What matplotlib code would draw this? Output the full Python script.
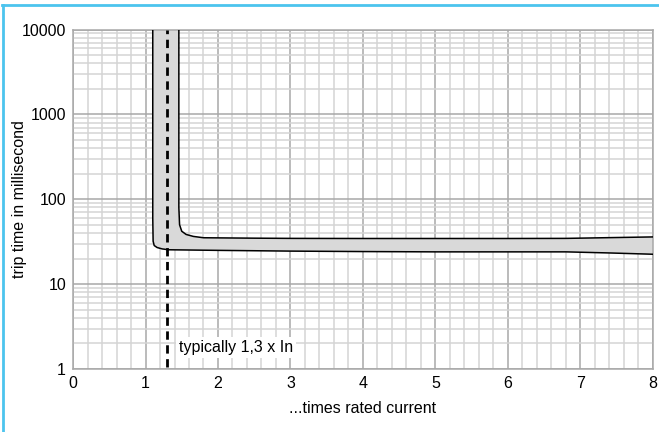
"""Trip time curve for residual current / overcurrent device"""
import matplotlib.pyplot as plt
import numpy as np
from matplotlib.lines import Line2D
from matplotlib.ticker import MultipleLocator, LogLocator, NullFormatter

plt.rcParams['font.family'] = ['Liberation Sans', 'DejaVu Sans']

# lower limit of the tripping band (x = multiple of In, y = ms)
lower_x = [1.10, 1.10, 1.105, 1.12, 1.16, 1.23, 1.32, 2.0, 3.0, 4.0, 5.0, 6.0, 6.8, 7.4, 8.0]
lower_y = [10000, 60, 32, 28.5, 27.0, 26.0, 25.4, 25.0, 24.5, 24.2, 24.0, 24.0, 24.0, 23.3, 22.5]

# upper limit of the tripping band
upper_x = [1.46, 1.46, 1.47, 1.50, 1.56, 1.66, 1.80, 2.5, 3.0, 4.0, 5.0, 6.0, 6.8, 7.4, 8.0]
upper_y = [10000, 80, 50, 42, 38.5, 36.5, 35.2, 34.8, 34.6, 34.5, 34.5, 34.5, 34.6, 35.3, 36.0]

typical_x = 1.3
x_ticks = [0, 1, 2, 3, 4, 5, 6, 7, 8]
y_ticks = [1, 10, 100, 1000, 10000]

fig = plt.figure(figsize=(6.59, 4.32), dpi=100)
ax = fig.add_axes([0.1108, 0.1458, 0.88, 0.7859])

# shaded band between the two curves
band_y = np.concatenate([lower_y, upper_y[::-1]])
band_x = np.concatenate([lower_x, upper_x[::-1]])
ax.fill(band_x, band_y, color='#d9d9d9', lw=0, zorder=2)
ax.plot(lower_x, lower_y, color='black', lw=1.1, zorder=3)
ax.plot(upper_x, upper_y, color='black', lw=1.1, zorder=3)

ax.axvline(typical_x, ymin=0.005, ymax=1.0, color='black', lw=2, ls=(0, (3, 2)), zorder=4)
ax.text(typical_x + 0.16, 1.8, 'typically 1,3 x In', fontsize=11.5, va='center', ha='left',
        bbox=dict(facecolor='white', edgecolor='none', pad=2), zorder=5)

ax.set_yscale('log')
ax.set_xlim(0, 8)
ax.set_ylim(1, 10000)
ax.set_xticks(x_ticks)
ax.set_yticks(y_ticks)
ax.set_yticklabels([str(v) for v in y_ticks])
ax.xaxis.set_minor_locator(MultipleLocator(0.2))
ax.yaxis.set_minor_locator(LogLocator(base=10, subs=np.arange(2, 10)))
ax.yaxis.set_minor_formatter(NullFormatter())

ax.grid(which='minor', color='#d4d4d4', lw=1.1, zorder=0)
ax.grid(which='major', color='#a8a8a8', lw=1.1, zorder=1)
ax.set_axisbelow(True)
ax.tick_params(which='both', length=0, labelsize=11.5, pad=5)
for s in ax.spines.values():
    s.set_color('#a8a8a8')
    s.set_linewidth(1.1)

ax.set_xlabel('...times rated current', fontsize=11.5, labelpad=7)
ax.set_ylabel('trip time in millisecond', fontsize=11.5)
ax.yaxis.set_label_coords(-0.08, 0.5)

# light blue frame along top and left of the figure
blue = '#4cc4ee'
fig.add_artist(Line2D([0.003, 1.0], [0.989, 0.989], transform=fig.transFigure, color=blue, lw=2))
fig.add_artist(Line2D([0.004, 0.004], [0.0, 0.989], transform=fig.transFigure, color=blue, lw=2))

fig.savefig('out.png', dpi=100)
